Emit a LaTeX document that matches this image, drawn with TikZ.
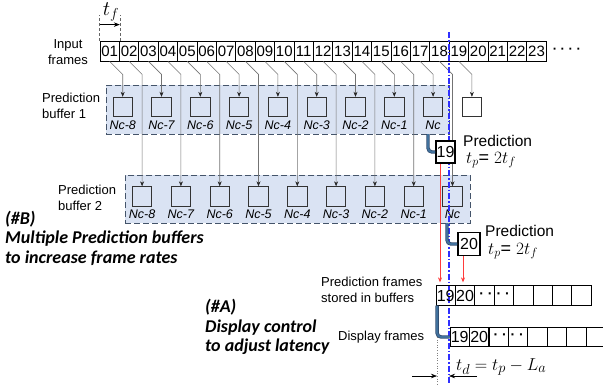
\documentclass[tikz,border=0pt]{standalone}
\usepackage{fontspec}
\setmainfont{Liberation Sans}
\newfontfamily\calib{Carlito}
\usetikzlibrary{arrows.meta,calc}
\definecolor{buffill}{HTML}{DAE3F3}
\definecolor{bufdraw}{HTML}{44546A}
\definecolor{pipecol}{HTML}{41719C}
\definecolor{pipedark}{HTML}{2E4A6E}
\definecolor{dashblue}{HTML}{2F2FFF}
\definecolor{redline}{HTML}{FF3B3B}
\begin{document}
\begin{tikzpicture}[x=1pt,y=-1pt,
  frame/.style={draw, line width=0.8pt, minimum width=19.4pt, minimum height=20pt, inner sep=0pt, font=\fontsize{15}{15}\selectfont},
  bufbox/.style={draw=black!80, line width=0.9pt, minimum size=19.5pt, inner sep=0pt},
  buflabel/.style={font=\fontsize{12.5}{12.5}\selectfont\itshape, inner sep=0pt, anchor=north},
  buffer/.style={draw=bufdraw, dash pattern=on 6pt off 3pt, fill=buffill, line width=0.9pt, inner sep=0pt, anchor=north west},
  feed/.style={draw=black!55, line width=0.6pt},
  feedarrow/.style={feed, -{Stealth[length=5pt,width=4pt,black!85]}},
  predbox/.style={draw, fill=white, line width=1.8pt, inner sep=0pt, minimum width=19pt, minimum height=22pt, font=\fontsize{16}{16}\selectfont},
  pipe/.style={draw=pipedark, line width=3.4pt, rounded corners=4pt, postaction={draw=pipecol, line width=1.9pt}},
  redarrow/.style={draw=redline, line width=0.6pt, -{Stealth[length=5pt,width=4pt]}},
  lbl/.style={font=\fontsize{13}{16}\selectfont, align=left, inner sep=0pt, anchor=west},
  predtxt/.style={font=\fontsize{15.5}{15.5}\selectfont, inner sep=0pt, anchor=west},
  mathtxt/.style={font=\fontsize{18}{18}\selectfont, inner sep=0pt, anchor=west},
  boldnote/.style={font=\calib\bfseries\itshape\fontsize{18}{19.5}\selectfont, align=left, inner sep=0pt, anchor=west},
  rowbox/.style={draw, line width=0.8pt, minimum width=19.4pt, minimum height=19.5pt, inner sep=0pt},
  rownum/.style={font=\fontsize{16}{16}\selectfont, inner sep=0pt},
  dashdotblue/.style={draw=dashblue, line width=1.1pt, dash pattern=on 6pt off 2pt on 1.5pt off 2pt},
  thinarrow/.style={draw, line width=0.6pt, -{Stealth[length=6pt,width=4.5pt]}},
]
\useasboundingbox (0,0) rectangle (603,384);

% buffers
\node[buffer, minimum width=343pt, minimum height=49pt] (buf1) at (106,85) {};
\node[buffer, minimum width=345pt, minimum height=48pt] (buf2) at (125,175) {};

% input frames
\foreach \k in {1,...,23} {
  \pgfmathsetmacro\xx{100+(\k-1)*19.4+9.7}
  \node[frame] (f\k) at (\xx,51) {\ifnum\k<10 0\fi\k};
}
\node[font=\bfseries\fontsize{13}{13}\selectfont, inner sep=0pt, anchor=west] (more) at ($(f23.east)+(6,0)$) {· · · ·};
\node[lbl, align=center, anchor=center] (inlbl) at (68,52) {Input\\frames};

% t_f
\coordinate (tfa) at ($(f1.north west)+(0,-26)$);
\coordinate (tfb) at ($(f1.north east)+(0,-26)$);
\draw[black!60, densely dashed, line width=0.5pt] (f1.north west) -- (tfa);
\draw[black!60, densely dashed, line width=0.5pt] (f1.north east) -- (tfb);
\coordinate (tfs) at ($(f1.north west)+(0,-16)$);
\coordinate (tfe) at ($(f1.north east)+(0,-16)$);
\draw[thinarrow] (tfs) -- (tfe);
\node[font=\fontsize{21}{21}\selectfont, inner sep=0pt] (tflbl) at (111,12) {$t_f$};

% buffer 1 boxes
\foreach \i in {0,...,8} {
  \pgfmathsetmacro\xx{122.7+38.8*\i}
  \pgfmathtruncatemacro\nn{8-\i}
  \node[bufbox] (a\i) at (\xx,107) {};
  \ifnum\i=8
    \node[buflabel] (la\i) at ($(a\i.south)+(0,3)$) {Nc};
  \else
    \node[buflabel] (la\i) at ($(a\i.south)+(0,3)$) {Nc-\nn};
  \fi
}
\node[bufbox] (extra) at (471.9,107) {};

% buffer 2 boxes
\foreach \i in {0,...,8} {
  \pgfmathsetmacro\xx{142.1+38.8*\i}
  \pgfmathtruncatemacro\nn{8-\i}
  \node[bufbox] (b\i) at (\xx,196.5) {};
  \ifnum\i=8
    \node[buflabel] (lb\i) at ($(b\i.south)+(0,3)$) {Nc};
  \else
    \node[buflabel] (lb\i) at ($(b\i.south)+(0,3)$) {Nc-\nn};
  \fi
}

\node[lbl] (pb1) at (42,106) {Prediction\\buffer 1};
\node[lbl] (pb2) at (58,198) {Prediction\\buffer 2};

% feed lines
\foreach \i in {0,...,8} {
  \pgfmathtruncatemacro\ko{2*\i+1}
  \pgfmathtruncatemacro\ke{2*\i+2}
  \draw[feedarrow] (f\ko.south) -- ($(f\ko.south)+(13,13)$) -- (a\i.north);
  \draw[feedarrow] (f\ke.south) -- ($(f\ke.south)+(13,13)$) -- (b\i.north);
}
\draw[feedarrow] (f19.south) -- ($(f19.south)+(13,13)$) -- (extra.north);

% blue dash-dot line
\coordinate (bt) at (449,32);
\coordinate (bb) at (449,384);
\draw[dashdotblue] (bt) -- (bb);

% prediction boxes
\node[predbox] (p19) at (445.5,152) {19};
\node[predtxt] (pt19) at (463,141) {Prediction};
\node[mathtxt] (pm19) at (466,160) {$t_p$= $2t_f$};
\node[predbox, minimum width=22pt, minimum height=23pt] (p20) at (469,244) {20};
\node[predtxt] (pt20) at (485,231) {Prediction};
\node[mathtxt] (pm20) at (488,251) {$t_p$= $2t_f$};

\coordinate (q1) at (428,134);
\draw[pipe] (q1) |- (p19.west);
\coordinate (q2) at (447,223);
\draw[pipe] (q2) |- (p20.west);

% stored row
\foreach \k in {1,...,8} {
  \pgfmathsetmacro\xx{436+9.7+(\k-1)*19.4}
  \node[rowbox] (s\k) at (\xx,295.5) {};
}
\node[rownum] at (s1) {19};
\node[rownum] at (s2) {20};
\node[font=\bfseries\fontsize{14}{14}\selectfont, inner sep=0pt] (sdots) at (s3.east) {· · · ·};
\node[lbl] (stl) at (321,290) {Prediction frames\\stored in buffers};

% display row
\foreach \k in {1,...,8} {
  \pgfmathsetmacro\xx{450+9.7+(\k-1)*19.45}
  \node[rowbox] (d\k) at (\xx,337) {};
}
\node[rownum] at (d1) {19};
\node[rownum] at (d2) {20};
\node[font=\bfseries\fontsize{14}{14}\selectfont, inner sep=0pt] (ddots) at (d3.east) {· · · ·};
\node[lbl] (dfl) at (338,337) {Display frames};

% red arrows
\coordinate (r1a) at ($(p19.south)+(-5.5,0)$);
\coordinate (r1b) at (r1a |- s1.north);
\draw[redarrow] (r1a) -- ($(r1b)+(0,-3)$);
\coordinate (r2a) at ($(p20.south)+(-6,0)$);
\coordinate (r2b) at (r2a |- s2.north);
\draw[redarrow] (r2a) -- ($(r2b)+(0,-3)$);

% pipe 3
\coordinate (q3) at ($(s1.south west)+(1.5,0)$);
\draw[pipe] (q3) |- (d1.west);

% t_d
\coordinate (dt1) at (437,337);
\coordinate (dt2) at (437,384);
\draw[black!50, dotted, line width=0.6pt] (dt1) -- (dt2);
\coordinate (tdL) at (412,376);
\coordinate (tdLe) at (437,376);
\coordinate (tdR) at (477,376);
\coordinate (tdRe) at (449,376);
\draw[thinarrow] (tdL) -- (tdLe);
\draw[thinarrow] (tdR) -- (tdRe);
\node[mathtxt, font=\fontsize{19}{19}\selectfont] (tdlbl) at (456,367) {$t_d = t_p - L_a$};

% notes
\node[boldnote] (noteB) at (5,238) {(\#B)\\Multiple Prediction buffers\\to increase frame rates};
\node[boldnote] (noteA) at (205,327) {(\#A)\\Display control\\to adjust latency};
\end{tikzpicture}
\end{document}
